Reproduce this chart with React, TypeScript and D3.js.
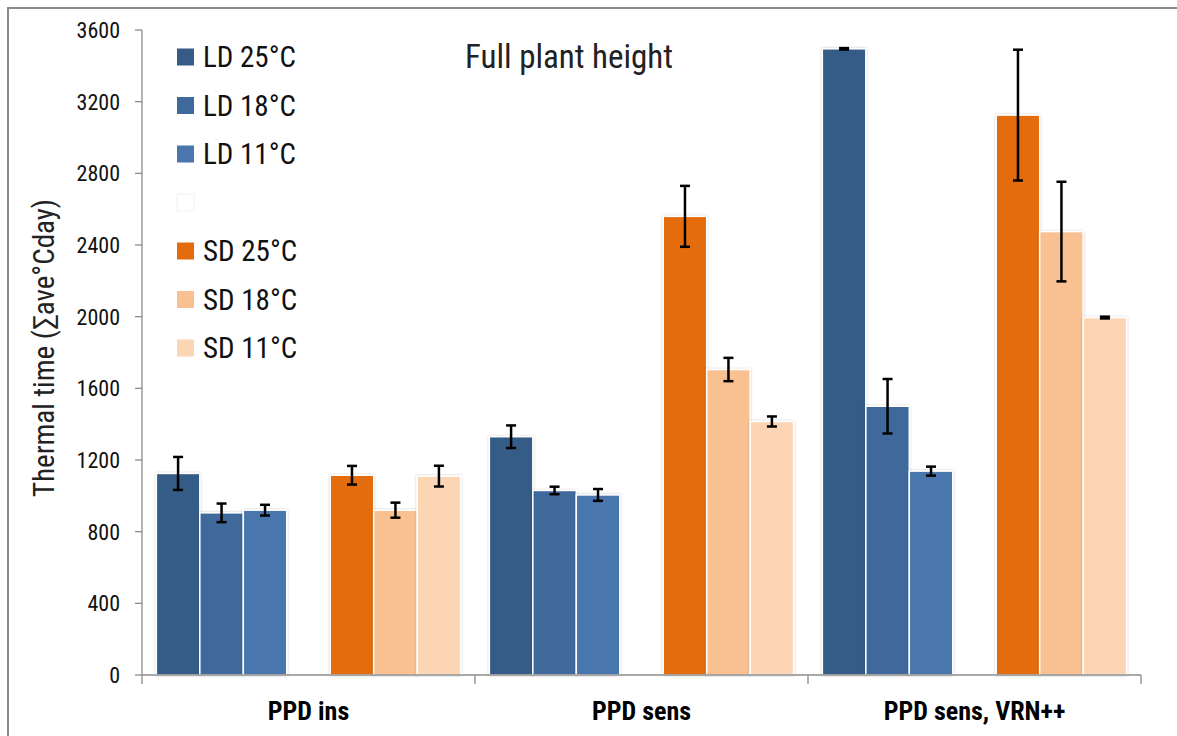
import React from 'react';
import * as d3 from 'd3';

const categories = ['PPD ins', 'PPD sens', 'PPD sens, VRN++'];
const seriesNames = ['LD 25°C', 'LD 18°C', 'LD 11°C', '', 'SD 25°C', 'SD 18°C', 'SD 11°C'];
const seriesColors = ['#365b86', '#40699b', '#4a76ad', '#ffffff', '#e46c0c', '#f9c091', '#fcd5b5'];

// means and error half-widths, one entry per category
const ld25 = [1125, 1330, 3495];
const ld25Err = [92, 63, 4];
const ld18 = [905, 1030, 1500];
const ld18Err = [52, 21, 152];
const ld11 = [920, 1005, 1138];
const ld11Err = [30, 33, 25];
const sd25 = [1115, 2560, 3125];
const sd25Err = [52, 170, 365];
const sd18 = [920, 1705, 2475];
const sd18Err = [42, 65, 278];
const sd11 = [1110, 1415, 1995];
const sd11Err = [58, 28, 5];

const yTicks = [0, 400, 800, 1200, 1600, 2000, 2400, 2800, 3200, 3600];

const seriesValues = [ld25, ld18, ld11, null, sd25, sd18, sd11];
const seriesErrors = [ld25Err, ld18Err, ld11Err, null, sd25Err, sd18Err, sd11Err];

const FONT = "'Liberation Sans Narrow', 'Roboto Condensed', 'DejaVu Sans Condensed', sans-serif";

const App = () => {
  const width = 1177;
  const height = 736;
  const left = 142;
  const right = 1141;
  const top = 30;
  const bottom = 675;

  const x0 = d3.scaleBand().domain(categories).range([left, right]).padding(0);
  const slots = seriesNames.map((_, i) => String(i));
  const x1 = d3.scaleBand().domain(slots).range([0, x0.bandwidth()]).paddingOuter(0.33).paddingInner(0);
  const y = d3.scaleLinear().domain([0, 3600]).range([bottom, top]);

  const bars = [];
  const errs = [];
  seriesValues.forEach((vals, s) => {
    if (!vals) return;
    vals.forEach((v, c) => {
      const bx = x0(categories[c]) + x1(String(s));
      const e = seriesErrors[s][c];
      bars.push({ key: `${s}-${c}`, x: bx, w: x1.bandwidth(), y: y(v), h: y(0) - y(v), color: seriesColors[s] });
      errs.push({ key: `${s}-${c}`, cx: bx + x1.bandwidth() / 2, y1: y(v + e), y2: y(v - e) });
    });
  });

  const legendRow = (i) => 57 + i * 48.5;

  return (
    <svg width={width} height={height} style={{ position: 'absolute', left: 0, top: 0, background: '#fff' }}>
      <defs>
        <filter id="shadow" x="-10%" y="-5%" width="120%" height="110%">
          <feDropShadow dx="0" dy="0" stdDeviation="1.2" floodColor="#000" floodOpacity="0.25" />
        </filter>
      </defs>
      <rect x={8} y={8} width={1300} height={900} fill="none" stroke="#8a8a8a" strokeWidth={2} />

      {/* y axis */}
      <line x1={left} x2={left} y1={top} y2={bottom + 9} stroke="#8c8c8c" strokeWidth={1.3} />
      {yTicks.map((t) => (
        <g key={t}>
          <line x1={left - 7} x2={left} y1={y(t)} y2={y(t)} stroke="#8c8c8c" strokeWidth={1.3} />
          <text x={left - 22} y={y(t)} dy="0.36em" textAnchor="end" fontFamily={FONT} fontSize={22} fill="#111">{t}</text>
        </g>
      ))}
      <text transform={`translate(54, 348) rotate(-90)`} textAnchor="middle" fontFamily={FONT} fontSize={29} fill="#222">
        Thermal time (∑ave°Cday)
      </text>

      {/* bars */}
      {bars.map((b) => (
        <rect key={b.key} x={b.x} y={b.y} width={b.w} height={b.h} fill={b.color} stroke="#fff" strokeWidth={1.5} filter="url(#shadow)" />
      ))}

      {/* x axis */}
      <line x1={left} x2={right} y1={bottom} y2={bottom} stroke="#8c8c8c" strokeWidth={1.3} />
      {categories.map((c) => (
        <g key={c}>
          <line x1={x0(c) + x0.bandwidth()} x2={x0(c) + x0.bandwidth()} y1={bottom} y2={bottom + 9} stroke="#8c8c8c" strokeWidth={1.3} />
          <text x={x0(c) + x0.bandwidth() / 2} y={720} textAnchor="middle" fontFamily={FONT} fontWeight="bold" fontSize={26} fill="#000">{c}</text>
        </g>
      ))}

      {/* error bars */}
      {errs.map((e) => (
        <g key={e.key} stroke="#000" strokeWidth={2.5}>
          <line x1={e.cx} x2={e.cx} y1={e.y1} y2={e.y2} />
          <line x1={e.cx - 5} x2={e.cx + 5} y1={e.y1} y2={e.y1} />
          <line x1={e.cx - 5} x2={e.cx + 5} y1={e.y2} y2={e.y2} />
        </g>
      ))}

      {/* legend */}
      {seriesNames.map((n, i) => (
        <g key={i}>
          <rect x={177} y={legendRow(i) - 8.5} width={17} height={17} fill={seriesColors[i]} stroke={n ? 'none' : '#f2f2f2'} strokeWidth={1} />
          <text x={203} y={legendRow(i) + 10} fontFamily={FONT} fontSize={29} fill="#111">{n}</text>
        </g>
      ))}

      <text x={569} y={68} textAnchor="middle" fontFamily={FONT} fontSize={33} fill="#222">Full plant height</text>
    </svg>
  );
};

export default App;
